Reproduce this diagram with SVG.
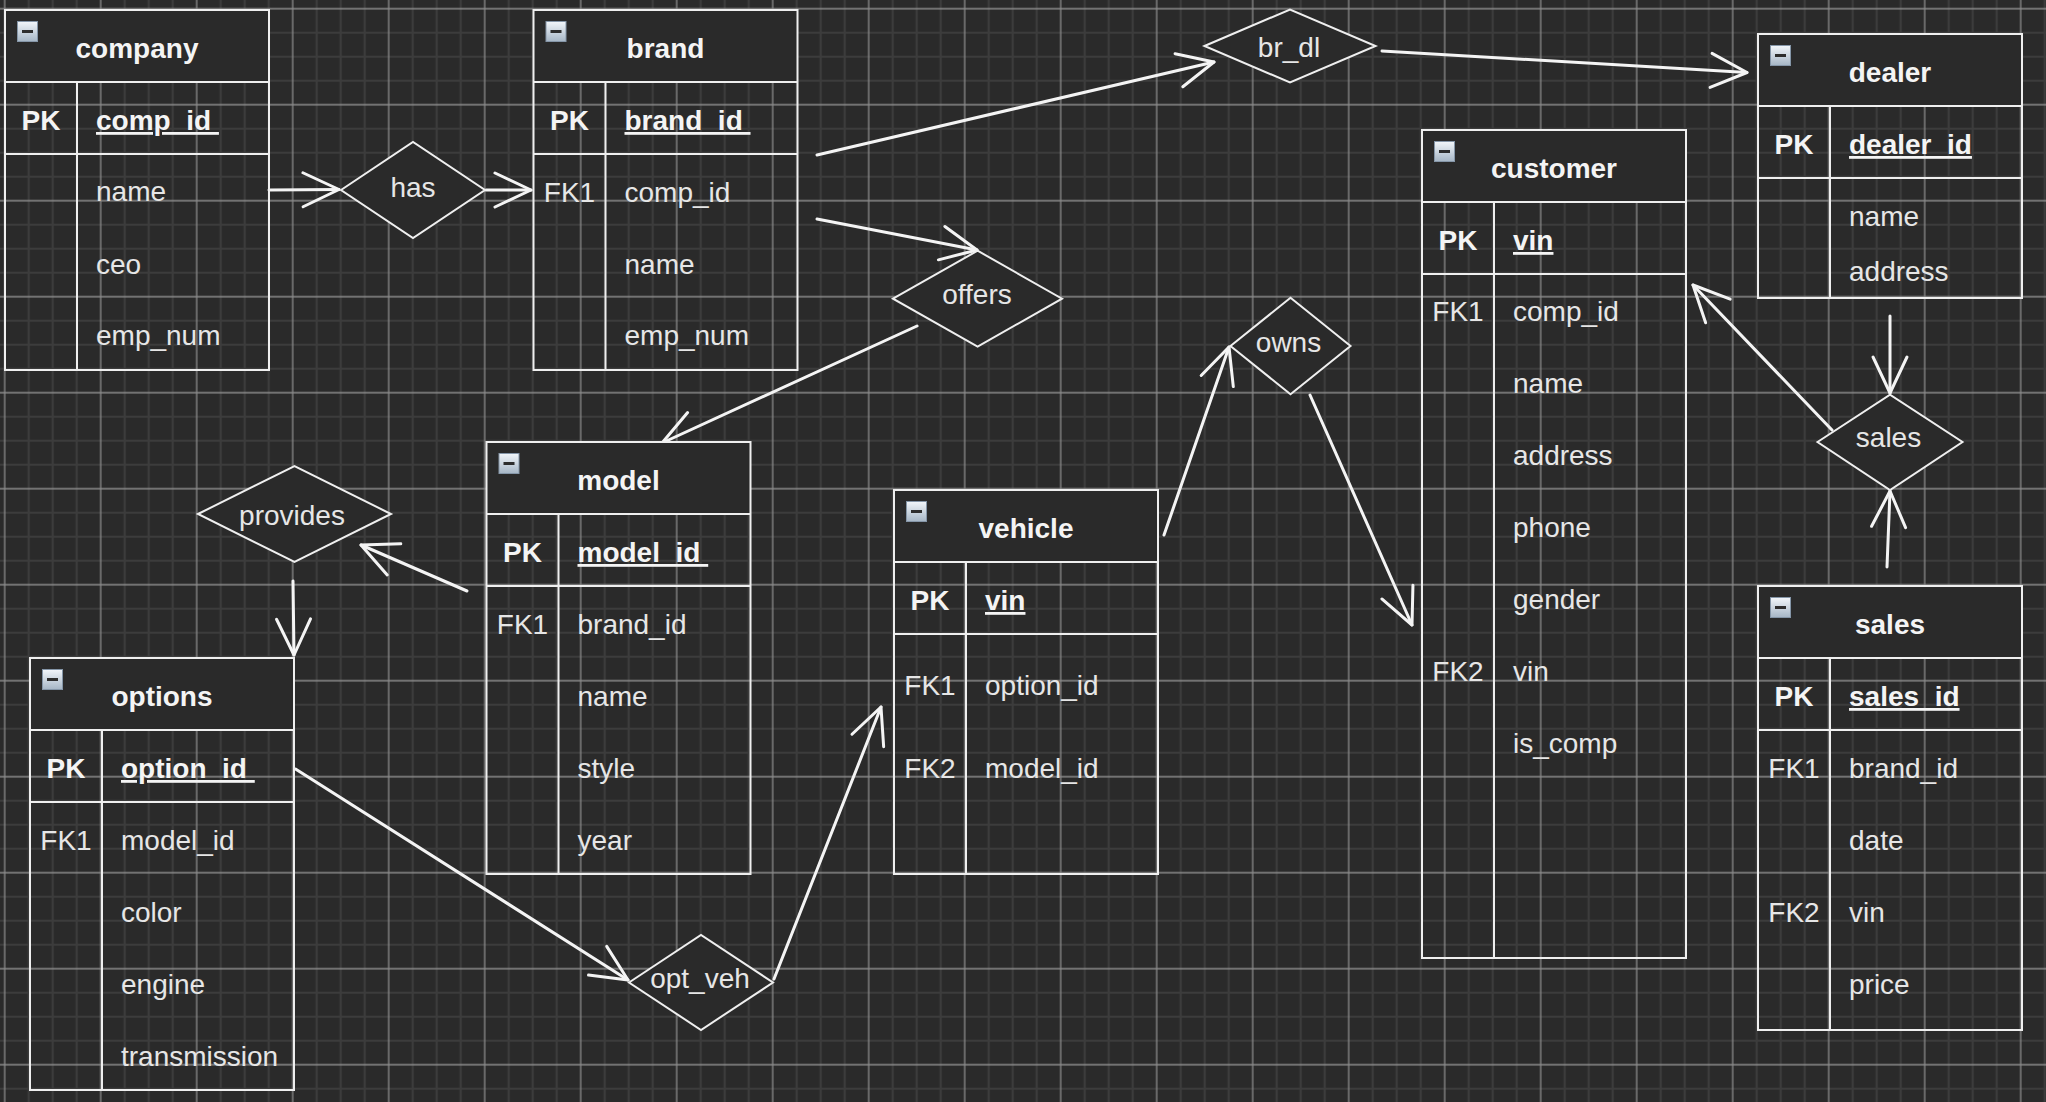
<svg xmlns="http://www.w3.org/2000/svg" xmlns:xlink="http://www.w3.org/1999/xlink" width="2046" height="1102" viewBox="0 0 2046 1102">
<style>
.hdr{fill:#2a2a2a;stroke:none}
.tbl{fill:none;stroke:#efefef;stroke-width:2}
.tl{fill:none;stroke:#efefef;stroke-width:2}
.dia{fill:#2a2a2a;stroke:#efefef;stroke-width:2}
text{font-family:"Liberation Sans",Arial,Helvetica,sans-serif;font-size:28px;fill:#e6e6e6}
.title{font-weight:bold;fill:#f4f4f4;text-anchor:middle}
.kb{font-weight:bold;fill:#f4f4f4;text-anchor:middle}
.k{text-anchor:middle}
.pkf{font-weight:bold;fill:#f4f4f4;text-decoration:underline;white-space:pre}
.dl{text-anchor:middle}
.cn{fill:none;stroke:#f4f4f4;stroke-width:3;stroke-linecap:round;stroke-linejoin:round;marker-end:url(#arr)}
</style>
<defs>
<pattern id="grid" patternUnits="userSpaceOnUse" x="-7.3" y="-3.3" width="96" height="96">
<rect width="96" height="96" fill="#2a2a2a"/>
<path d="M36 0V96M60 0V96M84 0V96M0 36H96M0 60H96M0 84H96" stroke="#3c3c3c" stroke-width="2.2"/>
<path d="M12 0V96M0 12H96" stroke="#8a8a8a" stroke-width="1.3"/>
</pattern>
<linearGradient id="ig" x1="0" y1="0" x2="0" y2="1">
<stop offset="0" stop-color="#f2f6fa"/>
<stop offset="1" stop-color="#a6b6c6"/>
</linearGradient>
<symbol id="icon" overflow="visible">
<rect x="0.5" y="0.5" width="20" height="20" fill="url(#ig)" stroke="#8596a8" stroke-width="1"/>
<rect x="5" y="9" width="11" height="3" fill="#2d2d2d"/>
</symbol>
<marker id="arr" markerUnits="userSpaceOnUse" orient="auto" overflow="visible" markerWidth="1" markerHeight="1" refX="0" refY="0">
<path d="M-36 -17L0 0L-36 17" fill="none" stroke="#f4f4f4" stroke-width="3" stroke-linecap="round" stroke-linejoin="round"/>
</marker>
</defs>
<rect width="2046" height="1102" fill="url(#grid)"/>

<g id="connectors">
<path class="cn" d="M269 190L339 189.5"/>
<path class="cn" d="M486 190L531 190"/>
<path class="cn" d="M817 155L1214 62"/>
<path class="cn" d="M1382 51L1747 72.5"/>
<path class="cn" d="M817 219L977 250"/>
<path class="cn" d="M917 326L662 443"/>
<path class="cn" d="M467 591L361 545"/>
<path class="cn" d="M293 581L294 655"/>
<path class="cn" d="M295.5 769L628 980"/>
<path class="cn" d="M774 979L881 707"/>
<path class="cn" d="M1164 535L1229 347"/>
<path class="cn" d="M1310 395L1412 625"/>
<path class="cn" d="M1832 430L1693 285"/>
<path class="cn" d="M1890 316L1890 393"/>
<path class="cn" d="M1887 567L1890 491"/>
</g>

<g id="company">
<rect class="hdr" x="5" y="10" width="264" height="72"/>
<rect class="tbl" x="5" y="10" width="264" height="360"/>
<path class="tl" d="M5 82H269M5 154H269M77 82V370"/>
<use href="#icon" x="17" y="21"/>
<text class="title" x="137" y="58">company</text>
<text class="kb" x="41" y="130">PK</text>
<text class="pkf" x="96" y="130" xml:space="preserve">comp_id </text>
<text x="96" y="201">name</text>
<text x="96" y="274">ceo</text>
<text x="96" y="345">emp_num</text>
</g>

<g id="brand">
<rect class="hdr" x="533.5" y="10" width="264" height="72"/>
<rect class="tbl" x="533.5" y="10" width="264" height="360"/>
<path class="tl" d="M533.5 82H797.5M533.5 154H797.5M605.5 82V370"/>
<use href="#icon" x="545.5" y="21"/>
<text class="title" x="665.5" y="58">brand</text>
<text class="kb" x="569.5" y="130">PK</text>
<text class="pkf" x="624.5" y="130" xml:space="preserve">brand_id </text>
<text class="k" x="569.5" y="202">FK1</text>
<text x="624.5" y="202">comp_id</text>
<text x="624.5" y="274">name</text>
<text x="624.5" y="345">emp_num</text>
</g>

<g id="model">
<rect class="hdr" x="486.5" y="442" width="264" height="72"/>
<rect class="tbl" x="486.5" y="442" width="264" height="432"/>
<path class="tl" d="M486.5 514H750.5M486.5 586H750.5M558.5 514V874"/>
<use href="#icon" x="498.5" y="453"/>
<text class="title" x="618.5" y="490">model</text>
<text class="kb" x="522.5" y="562">PK</text>
<text class="pkf" x="577.5" y="562" xml:space="preserve">model_id </text>
<text class="k" x="522.5" y="634">FK1</text>
<text x="577.5" y="634">brand_id</text>
<text x="577.5" y="706">name</text>
<text x="577.5" y="778">style</text>
<text x="577.5" y="850">year</text>
</g>

<g id="options">
<rect class="hdr" x="30" y="658" width="264" height="72"/>
<rect class="tbl" x="30" y="658" width="264" height="432"/>
<path class="tl" d="M30 730H294M30 802H294M102 730V1090"/>
<use href="#icon" x="42" y="669"/>
<text class="title" x="162" y="706">options</text>
<text class="kb" x="66" y="778">PK</text>
<text class="pkf" x="121" y="778" xml:space="preserve">option_id </text>
<text class="k" x="66" y="850">FK1</text>
<text x="121" y="850">model_id</text>
<text x="121" y="922">color</text>
<text x="121" y="994">engine</text>
<text x="121" y="1066">transmission</text>
</g>

<g id="vehicle">
<rect class="hdr" x="894" y="490" width="264" height="72"/>
<rect class="tbl" x="894" y="490" width="264" height="384"/>
<path class="tl" d="M894 562H1158M894 634H1158M966 562V874"/>
<use href="#icon" x="906" y="501"/>
<text class="title" x="1026" y="538">vehicle</text>
<text class="kb" x="930" y="610">PK</text>
<text class="pkf" x="985" y="610">vin</text>
<text class="k" x="930" y="695">FK1</text>
<text x="985" y="695">option_id</text>
<text class="k" x="930" y="778">FK2</text>
<text x="985" y="778">model_id</text>
</g>

<g id="customer">
<rect class="hdr" x="1422" y="130" width="264" height="72"/>
<rect class="tbl" x="1422" y="130" width="264" height="828"/>
<path class="tl" d="M1422 202H1686M1422 274H1686M1494 202V958"/>
<use href="#icon" x="1434" y="141"/>
<text class="title" x="1554" y="178">customer</text>
<text class="kb" x="1458" y="250">PK</text>
<text class="pkf" x="1513" y="250">vin</text>
<text class="k" x="1458" y="321">FK1</text>
<text x="1513" y="321">comp_id</text>
<text x="1513" y="393">name</text>
<text x="1513" y="465">address</text>
<text x="1513" y="537">phone</text>
<text x="1513" y="609">gender</text>
<text class="k" x="1458" y="681">FK2</text>
<text x="1513" y="681">vin</text>
<text x="1513" y="753">is_comp</text>
</g>

<g id="dealer">
<rect class="hdr" x="1758" y="34" width="264" height="72"/>
<rect class="tbl" x="1758" y="34" width="264" height="264"/>
<path class="tl" d="M1758 106H2022M1758 178H2022M1830 106V298"/>
<use href="#icon" x="1770" y="45"/>
<text class="title" x="1890" y="82">dealer</text>
<text class="kb" x="1794" y="154">PK</text>
<text class="pkf" x="1849" y="154">dealer_id</text>
<text x="1849" y="226">name</text>
<text x="1849" y="281">address</text>
</g>

<g id="sales">
<rect class="hdr" x="1758" y="586" width="264" height="72"/>
<rect class="tbl" x="1758" y="586" width="264" height="444"/>
<path class="tl" d="M1758 658H2022M1758 730H2022M1830 658V1030"/>
<use href="#icon" x="1770" y="597"/>
<text class="title" x="1890" y="634">sales</text>
<text class="kb" x="1794" y="706">PK</text>
<text class="pkf" x="1849" y="706">sales_id</text>
<text class="k" x="1794" y="778">FK1</text>
<text x="1849" y="778">brand_id</text>
<text x="1849" y="850">date</text>
<text class="k" x="1794" y="922">FK2</text>
<text x="1849" y="922">vin</text>
<text x="1849" y="994">price</text>
</g>

<g id="has">
<polygon class="dia" points="341,190 413,142 485,190 413,238"/>
<text class="dl" x="413" y="197">has</text>
</g>
<g id="provides">
<polygon class="dia" points="198,514 294.5,466 391,514 294.5,562"/>
<text class="dl" x="292" y="525">provides</text>
</g>
<g id="opt_veh">
<polygon class="dia" points="629,982.5 701,935 773,982.5 701,1030"/>
<text class="dl" x="700" y="988">opt_veh</text>
</g>
<g id="offers">
<polygon class="dia" points="893,298.7 977.6,250.7 1062,298.7 977.6,346.7"/>
<text class="dl" x="977" y="304">offers</text>
</g>
<g id="br_dl">
<polygon class="dia" points="1204.5,46 1290,9.5 1375.5,46 1290,82.5"/>
<text class="dl" x="1289" y="57">br_dl</text>
</g>
<g id="owns">
<polygon class="dia" points="1230.5,346 1290.5,297.7 1350.5,346 1290.5,394.3"/>
<text class="dl" x="1288.5" y="352">owns</text>
</g>
<g id="sales_rel">
<polygon class="dia" points="1817.5,442 1890,394.6 1962.5,442 1890,490"/>
<text class="dl" x="1888.5" y="447">sales</text>
</g>
</svg>
